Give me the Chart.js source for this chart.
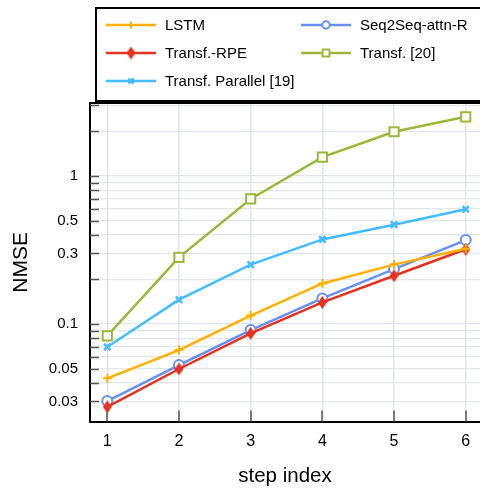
<!DOCTYPE html>
<html>
<head>
<meta charset="utf-8">
<script src="https://cdn.jsdelivr.net/npm/chart.js@4/dist/chart.umd.min.js"></script>
<style>
  html, body { margin: 0; padding: 0; background: #fff; }
  #wrap { width: 480px; height: 489px; position: relative; }
</style>
</head>
<body>
<div id="wrap"><canvas id="c" width="480" height="489"></canvas></div>
<script>
// ---- data ----
const steps = [1, 2, 3, 4, 5, 6];
const lstm      = [0.043, 0.0667, 0.114, 0.188, 0.252, 0.323];
const transfRPE = [0.0276, 0.0497, 0.0865, 0.140, 0.212, 0.320];
const seq2seq   = [0.0302, 0.0528, 0.091, 0.149, 0.235, 0.369];
const transf20  = [0.0833, 0.282, 0.70, 1.34, 1.99, 2.51];
const parallel  = [0.070, 0.146, 0.252, 0.373, 0.469, 0.596];
const seriesNames = ['LSTM', 'Transf.-RPE', 'Transf. Parallel [19]', 'Seq2Seq-attn-R', 'Transf. [20]'];
const yTickValues = [0.03,0.04,0.05,0.06,0.07,0.08,0.09,0.1,0.2,0.3,0.4,0.5,0.6,0.7,0.8,0.9,1,2,3];
const yLabelValues = [0.03, 0.05, 0.1, 0.3, 0.5, 1];
const xTickValues = [1, 2, 3, 4, 5, 6];

const FONT = '"Liberation Sans", Arial, Helvetica, sans-serif';

function diamondCanvas(color, w, h) {
  const c = document.createElement('canvas');
  c.width = w; c.height = h;
  const g = c.getContext('2d');
  g.fillStyle = color;
  g.beginPath();
  g.moveTo(w / 2, 0); g.lineTo(w, h / 2); g.lineTo(w / 2, h); g.lineTo(0, h / 2);
  g.closePath(); g.fill();
  return c;
}
const redDiamond = diamondCanvas('#e5321f', 9, 13);

const pts = arr => steps.map((s, i) => ({ x: s, y: arr[i] }));

const datasets = [
  { label: seriesNames[0], data: pts(lstm), borderColor: '#ffb000', backgroundColor: '#ffb000',
    pointStyle: 'cross', pointRadius: 4.5, pointBorderWidth: 2, borderWidth: 2.5 },
  { label: seriesNames[1], data: pts(transfRPE), borderColor: '#e5321f', backgroundColor: '#e5321f',
    pointStyle: redDiamond, pointRadius: 5, pointBorderWidth: 2, borderWidth: 2.5 },
  { label: seriesNames[2], data: pts(parallel), borderColor: '#45bcff', backgroundColor: '#45bcff',
    pointStyle: 'crossRot', pointRadius: 4.5, pointBorderWidth: 2.6, borderWidth: 2.5 },
  { label: seriesNames[3], data: pts(seq2seq), borderColor: '#6690f2', backgroundColor: '#ffffff',
    pointStyle: 'circle', pointRadius: 5, pointBorderWidth: 2, borderWidth: 2.5 },
  { label: seriesNames[4], data: pts(transf20), borderColor: '#9bb83a', backgroundColor: '#ffffff',
    pointStyle: 'rect', pointRadius: 6.5, pointBorderWidth: 2, borderWidth: 2.5 }
];
datasets.forEach(d => {
  d.pointBackgroundColor = d.backgroundColor;
  d.pointBorderColor = d.borderColor;
  d.fill = false; d.tension = 0;
});

const decorPlugin = {
  id: 'decor',
  beforeDatasetsDraw(chart) {
    const { ctx, chartArea: a, scales: { x, y } } = chart;
    ctx.save();
    ctx.strokeStyle = '#555';
    ctx.lineWidth = 1.5;
    y.ticks.forEach(t => {
      const py = Math.round(y.getPixelForValue(t.value)) + 0.5;
      ctx.beginPath(); ctx.moveTo(a.left, py); ctx.lineTo(a.left + 9, py); ctx.stroke();
    });
    x.ticks.forEach(t => {
      const px = Math.round(x.getPixelForValue(t.value));
      ctx.beginPath(); ctx.moveTo(px, a.bottom); ctx.lineTo(px, a.bottom - 11); ctx.stroke();
    });
    ctx.restore();
  },
  afterDraw(chart) {
    const { ctx, chartArea: a } = chart;
    const H = Chart.helpers;
    ctx.save();
    ctx.strokeStyle = '#000';
    ctx.lineWidth = 2;
    ctx.beginPath(); ctx.moveTo(a.left - 1, a.top); ctx.lineTo(a.right + 2, a.top); ctx.stroke();
    // legend box
    ctx.fillStyle = '#fff';
    ctx.fillRect(96, 8, 390, 93);
    ctx.lineWidth = 2;
    ctx.strokeRect(96, 8, 390, 93);
    const slots = [[106, 25], [106, 53], [106, 81], [301, 25], [301, 53]];
    ctx.font = '15px ' + FONT;
    ctx.textBaseline = 'middle';
    chart.data.datasets.forEach((d, i) => {
      const [lx, ly] = slots[i];
      ctx.strokeStyle = d.borderColor;
      ctx.lineWidth = 2.5;
      ctx.beginPath(); ctx.moveTo(lx, ly); ctx.lineTo(lx + 50, ly); ctx.stroke();
      ctx.fillStyle = d.pointBackgroundColor;
      ctx.strokeStyle = d.pointBorderColor;
      ctx.lineWidth = d.pointBorderWidth;
      const r = (typeof d.pointStyle === 'string') ? Math.max(3.5, d.pointRadius * 0.75) : d.pointRadius;
      H.drawPoint(ctx, { pointStyle: d.pointStyle, radius: r, rotation: 0, borderWidth: d.pointBorderWidth }, lx + 25, ly);
      ctx.fillStyle = '#000';
      ctx.fillText(d.label, lx + 59, ly + 1);
    });
    ctx.restore();
  }
};

new Chart(document.getElementById('c'), {
  type: 'line',
  data: { datasets },
  options: {
    responsive: false,
    animation: false,
    devicePixelRatio: 1,
    layout: { autoPadding: false, padding: { top: 103, right: 0, left: 0, bottom: 0 } },
    plugins: { legend: { display: false }, tooltip: { enabled: false } },
    scales: {
      x: {
        type: 'linear',
        min: 0.759, max: 6.199,
        afterBuildTicks: s => { s.ticks = xTickValues.map(v => ({ value: v })); },
        afterFit: s => { s.height = 67.4; s.paddingLeft = 0; s.paddingRight = 0; },
        ticks: { autoSkip: false, maxRotation: 0, padding: 10, color: '#000',
                 font: { family: FONT, size: 16 }, callback: v => String(v) },
        grid: { color: '#e2e5ea', lineWidth: 1.5, drawTicks: false },
        border: { display: true, color: '#000', width: 2 },
        title: { display: true, text: 'step index', color: '#000',
                 font: { family: FONT, size: 20.5 }, padding: { top: 0, bottom: 0 } }
      },
      y: {
        type: 'logarithmic',
        min: 0.02193, max: 3.112,
        afterBuildTicks: s => { s.ticks = yTickValues.map(v => ({ value: v })); },
        afterFit: s => { s.width = 90; s.paddingTop = 0; s.paddingBottom = 0; },
        ticks: { autoSkip: false, padding: 12, color: '#000',
                 font: { family: FONT, size: 15 },
                 callback: v => yLabelValues.includes(v) ? String(v) : '' },
        grid: { color: '#e2e5ea', lineWidth: 1.2, drawTicks: false },
        border: { display: true, color: '#000', width: 2 },
        title: { display: true, text: 'NMSE', color: '#000',
                 font: { family: FONT, size: 21 }, padding: { top: 9, bottom: 0 } }
      }
    }
  },
  plugins: [decorPlugin]
});
</script>
</body>
</html>
